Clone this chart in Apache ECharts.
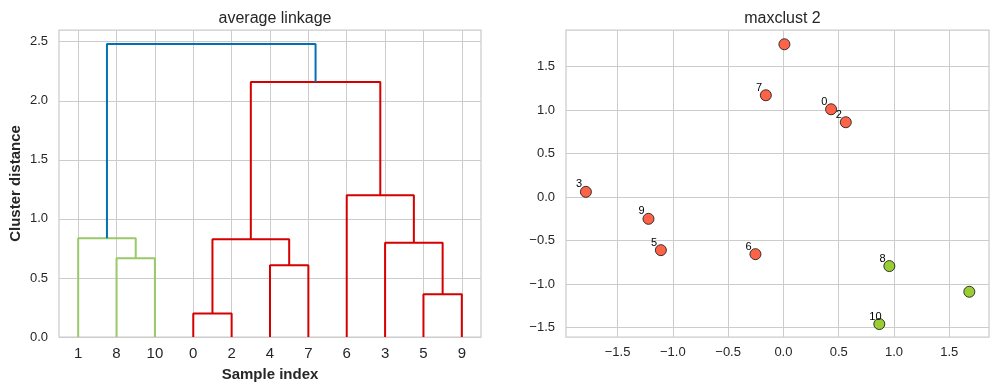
<!DOCTYPE html>
<html><head><meta charset="utf-8">
<script src="https://cdn.jsdelivr.net/npm/echarts@6/dist/echarts.min.js"></script>
<style>html,body{margin:0;padding:0;background:#fff}#c{width:998px;height:392px}</style>
</head><body><div id="c"></div>
<script>
// ---- Dendrogram data ----
const leafLabels = ['1', '8', '10', '0', '2', '4', '7', '6', '3', '5', '9'];
const leafPositions = [5, 15, 25, 35, 45, 55, 65, 75, 85, 95, 105];
const linkX = [
  [15, 15, 25, 25], [5, 5, 20, 20], [35, 35, 45, 45], [55, 55, 65, 65],
  [40, 40, 60, 60], [95, 95, 105, 105], [85, 85, 100, 100], [75, 75, 92.5, 92.5],
  [50, 50, 83.75, 83.75], [12.5, 12.5, 66.875, 66.875]
];
const linkY = [
  [0, 0.667, 0.667, 0], [0, 0.836, 0.836, 0.667], [0, 0.2, 0.2, 0], [0, 0.607, 0.607, 0],
  [0.2, 0.828, 0.828, 0.607], [0, 0.362, 0.362, 0], [0, 0.797, 0.797, 0.362], [0, 1.2, 1.2, 0.797],
  [0.828, 2.158, 2.158, 1.2], [0.836, 2.48, 2.48, 2.158]
];
const linkGroup = ['g', 'g', 'r', 'r', 'r', 'r', 'r', 'r', 'r', 'b'];
const distTicks = [0, 0.5, 1.0, 1.5, 2.0, 2.5];

// ---- Scatter data ----
const pointIds = [0, 1, 2, 3, 4, 5, 6, 7, 8, 9, 10];
const pointX = [0.431, 1.681, 0.564, -1.786, 0.009, -1.108, -0.253, -0.159, 0.958, -1.220, 0.867];
const pointY = [1.010, -1.087, 0.861, 0.061, 1.757, -0.609, -0.655, 1.171, -0.792, -0.249, -1.458];
const pointCluster = [2, 1, 2, 2, 2, 2, 2, 2, 1, 2, 1];
const pointLabels = ['0', '', '2', '3', '', '5', '6', '7', '8', '9', '10'];
const scatterXTicks = [-1.5, -1.0, -0.5, 0.0, 0.5, 1.0, 1.5];
const scatterYTicks = [-1.5, -1.0, -0.5, 0.0, 0.5, 1.0, 1.5];

// ---- styles ----
const linkColors = { g: '#99c96a', r: '#d60000', b: '#0072b2' };
const clusterColors = { 1: '#9acd32', 2: '#ff6347' };
const FONT = '"Liberation Sans", Arial, sans-serif';
const TXT = '#262626';
const GRIDC = '#cccccc';
const fmtMinus = v => v.toFixed(1).replace('-', '\u2212');

const chart = echarts.init(document.getElementById('c'), null, { renderer: 'canvas' });

const linkSeries = linkX.map((xs, i) => ({
  type: 'line', xAxisIndex: 0, yAxisIndex: 0,
  data: xs.map((x, k) => [x, linkY[i][k]]),
  symbol: 'none', silent: true, animation: false,
  lineStyle: { color: linkColors[linkGroup[i]], width: 2 },
  z: 3
}));

const scatterSeries = {
  type: 'scatter', xAxisIndex: 1, yAxisIndex: 1, animation: false,
  symbolSize: 11,
  data: pointIds.map(i => ({
    value: [pointX[i], pointY[i]],
    itemStyle: { color: clusterColors[pointCluster[i]], borderColor: '#222', borderWidth: 0.9, opacity: 1 },
    label: { show: pointLabels[i] !== '', formatter: pointLabels[i] }
  })),
  label: {
    position: [-4, 4], align: 'left', verticalAlign: 'bottom',
    fontSize: 11, fontFamily: FONT, color: '#000', lineHeight: 11
  },
  z: 4
};

chart.setOption({
  backgroundColor: '#fff',
  textStyle: { fontFamily: FONT },
  title: [
    { text: 'average linkage', left: 270, top: 6, textAlign: 'center',
      textStyle: { fontSize: 16, fontWeight: 'normal', color: TXT, fontFamily: FONT } },
    { text: 'maxclust 2', left: 777.5, top: 6, textAlign: 'center',
      textStyle: { fontSize: 16, fontWeight: 'normal', color: TXT, fontFamily: FONT } }
  ],
  grid: [
    { left: 59, top: 30, width: 422, height: 307, show: true, borderColor: GRIDC, borderWidth: 1.25, backgroundColor: '#fff' },
    { left: 566, top: 30, width: 423, height: 307, show: true, borderColor: GRIDC, borderWidth: 1.25, backgroundColor: '#fff' }
  ],
  xAxis: [
    { type: 'value', gridIndex: 0, min: 0, max: 110,
      name: 'Sample index', nameLocation: 'middle', nameGap: 30,
      nameTextStyle: { fontSize: 15, fontWeight: 'bold', color: TXT, fontFamily: FONT },
      axisLine: { show: false },
      axisTick: { show: false, customValues: leafPositions },
      axisLabel: { customValues: leafPositions, margin: 9, fontSize: 15, color: TXT, fontFamily: FONT,
        formatter: v => leafLabels[leafPositions.indexOf(v)] },
      splitLine: { show: true, lineStyle: { color: GRIDC, width: 1 } }
    },
    { type: 'value', gridIndex: 1, min: -1.966, max: 1.859,
      axisLine: { show: false },
      axisTick: { show: false, customValues: scatterXTicks },
      axisLabel: { customValues: scatterXTicks, margin: 9, fontSize: 13, color: TXT, fontFamily: FONT, formatter: fmtMinus },
      splitLine: { show: true, lineStyle: { color: GRIDC, width: 1 } }
    }
  ],
  yAxis: [
    { type: 'value', gridIndex: 0, min: 0, max: 2.599,
      name: 'Cluster distance', nameLocation: 'middle', nameGap: 36,
      nameTextStyle: { fontSize: 15, fontWeight: 'bold', color: TXT, fontFamily: FONT },
      axisLine: { show: false },
      axisTick: { show: false, customValues: distTicks },
      axisLabel: { customValues: distTicks, margin: 11, fontSize: 13, color: TXT, fontFamily: FONT, formatter: v => v.toFixed(1) },
      splitLine: { show: true, lineStyle: { color: GRIDC, width: 1 } }
    },
    { type: 'value', gridIndex: 1, min: -1.607, max: 1.921,
      axisLine: { show: false },
      axisTick: { show: false, customValues: scatterYTicks },
      axisLabel: { customValues: scatterYTicks, margin: 11, fontSize: 13, color: TXT, fontFamily: FONT, formatter: fmtMinus },
      splitLine: { show: true, lineStyle: { color: GRIDC, width: 1 } }
    }
  ],
  series: linkSeries.concat([scatterSeries])
});
</script>
</body></html>
